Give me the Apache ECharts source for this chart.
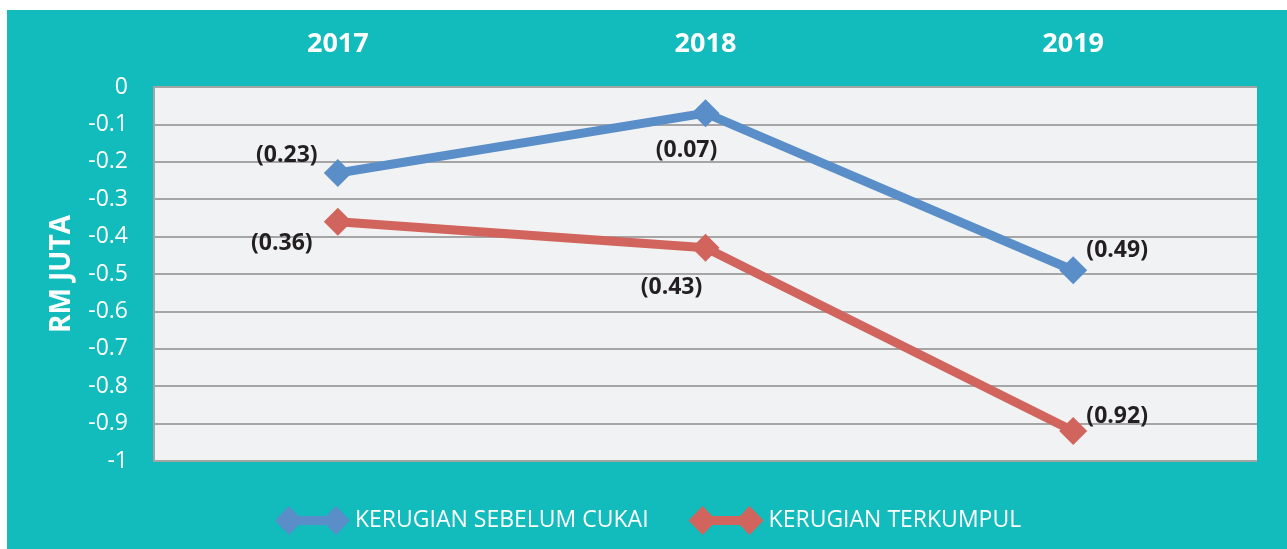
<!DOCTYPE html>
<html>
<head>
<meta charset="utf-8">
<script src="https://cdn.jsdelivr.net/npm/echarts@6/dist/echarts.min.js"></script>
<style>
html,body{margin:0;padding:0;background:#fff;}
#chart{width:1287px;height:549px;}
</style>
</head>
<body>
<div id="chart"></div>
<script>
const categories = ['2017', '2018', '2019'];
const seriesNames = ['KERUGIAN SEBELUM CUKAI', 'KERUGIAN TERKUMPUL'];
const lossBeforeTax = [-0.23, -0.07, -0.49];
const accumulatedLoss = [-0.36, -0.43, -0.92];
const yAxisName = 'RM JUTA';

const FONT = '"Open Sans", "Liberation Sans", sans-serif';
const BLUE = '#5A8EC8';
const RED = '#D1645C';
const TEAL = '#12BBBC';

const legendIcon = 'path://M0,14.5 L14,0 L28,14.5 L14,29 Z M47,14.5 L61,0 L75,14.5 L61,29 Z M14,10 L61,10 L61,19 L14,19 Z';

function fmt(p) { return '(' + Math.abs(p.value).toFixed(2) + ')'; }

const labelBase = {
  show: true,
  position: 'inside',
  formatter: fmt,
  color: '#231F20',
  fontFamily: FONT,
  fontWeight: 'bold',
  fontSize: 23
};

const blueOffsets = [[-51, -18], [-19, 37], [44, -20]];
const redOffsets = [[-56, 22], [-34, 40], [44, -15]];

function mkData(vals, offs) {
  return vals.map((v, i) => ({ value: v, label: Object.assign({}, labelBase, { offset: offs[i] }) }));
}

const chart = echarts.init(document.getElementById('chart'));
chart.setOption({
  backgroundColor: '#ffffff',
  animation: false,
  graphic: [{
    type: 'rect',
    shape: { x: 7, y: 10, width: 1280, height: 539 },
    style: { fill: TEAL },
    z: -10,
    silent: true
  }],
  grid: {
    left: 154, right: 30, top: 87, bottom: 88,
    show: true, backgroundColor: '#F1F2F4', borderWidth: 0
  },
  legend: {
    left: 270, top: 501,
    itemWidth: 75, itemHeight: 29,
    itemGap: 40,
    textStyle: { color: '#ffffff', fontFamily: FONT, fontSize: 23 },
    data: [
      { name: seriesNames[0], icon: legendIcon },
      { name: seriesNames[1], icon: legendIcon }
    ]
  },
  xAxis: {
    type: 'category',
    position: 'top',
    data: categories,
    boundaryGap: true,
    axisLine: { show: false },
    axisTick: { show: false },
    splitLine: { show: false },
    axisLabel: { color: '#ffffff', fontFamily: FONT, fontWeight: 'bold', fontSize: 27, margin: 29 }
  },
  yAxis: {
    type: 'value',
    min: -1, max: 0, interval: 0.1,
    name: yAxisName,
    nameLocation: 'middle',
    nameRotate: 90,
    nameGap: 78,
    nameTextStyle: { color: '#ffffff', fontFamily: FONT, fontWeight: 'bold', fontSize: 28 },
    axisLine: { show: true, lineStyle: { color: '#A5A5A5', width: 2 } },
    axisTick: { show: false },
    splitLine: { show: true, lineStyle: { color: '#A5A5A5', width: 2 } },
    axisLabel: {
      color: '#ffffff', fontFamily: FONT, fontSize: 23, margin: 26,
      formatter: v => String(Math.round(v * 10) / 10)
    }
  },
  series: [
    {
      name: seriesNames[0],
      type: 'line',
      data: mkData(lossBeforeTax, blueOffsets),
      color: BLUE,
      lineStyle: { width: 9, color: BLUE },
      itemStyle: { color: BLUE },
      symbol: 'diamond',
      symbolSize: 28,
      z: 3
    },
    {
      name: seriesNames[1],
      type: 'line',
      data: mkData(accumulatedLoss, redOffsets),
      color: RED,
      lineStyle: { width: 9, color: RED },
      itemStyle: { color: RED },
      symbol: 'diamond',
      symbolSize: 28,
      z: 3
    }
  ]
});
</script>
</body>
</html>
